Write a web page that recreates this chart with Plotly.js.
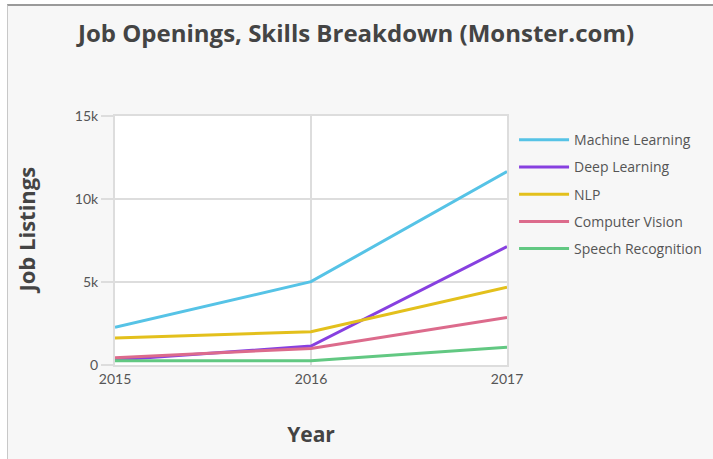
<!DOCTYPE html>
<html>
<head>
<meta charset="utf-8">
<script src="https://cdn.plot.ly/plotly-3.0.1.min.js"></script>
<style>
  html, body { margin: 0; padding: 0; background: #ffffff; }
  #wrap { position: relative; width: 713px; height: 459px; overflow: hidden; background: #ffffff; }
  #chart { position: absolute; left: 7px; top: 4px; width: 718px; height: 455px; overflow: hidden;
           border-top: 2px solid #9a9a9a; border-left: 1px solid #c8c8c8; box-sizing: border-box; }
</style>
</head>
<body>
<div id="wrap"><div id="chart"></div></div>
<script>
const years = [2015, 2016, 2017];
const seriesNames = ["Machine Learning", "Deep Learning", "NLP", "Computer Vision", "Speech Recognition"];
const machineLearning = [2270, 5020, 11650];
const deepLearning = [300, 1140, 7130];
const nlp = [1630, 2000, 4680];
const computerVision = [440, 1000, 2870];
const speechRecognition = [260, 260, 1070];
const seriesColors = ["#56c3e6", "#8740e0", "#e3c01c", "#dc6b8c", "#62c882"];
const yTickVals = [0, 5000, 10000, 15000];
const yTickText = ["0", "5k", "10k", "15k"];
const xTickVals = [2015, 2016, 2017];
const xTickText = ["2015", "2016", "2017"];
const yTitle = "Job Listings";

const allSeries = [machineLearning, deepLearning, nlp, computerVision, speechRecognition];
const traces = allSeries.map((vals, i) => ({
  type: "scatter",
  mode: "lines",
  x: years,
  y: vals,
  name: seriesNames[i],
  legendgroup: "g" + i,
  line: { color: seriesColors[i], width: 3 },
  hoverinfo: "x+y+name"
}));

const fontFam = "Lato, 'Open Sans', sans-serif";
const titleFam = "'Open Sans', Lato, sans-serif";
// plot area: image x 114..506, y 116..365 ; chart div origin at (7,4) + 2px border-top
const W = 717, L = 107, T = 110;
const layout = {
  width: W, height: 453,
  margin: { l: L, t: T, r: W - L - 392, b: 453 - T - 249, pad: 0 },
  paper_bgcolor: "#f7f7f7",
  plot_bgcolor: "#ffffff",
  font: { family: fontFam, color: "#555555", size: 13 },
  title: {
    text: "Job Openings, Skills Breakdown (Monster.com)",
    font: { family: titleFam, size: 24, color: "#444444", weight: 700 },
    x: 0, xref: "container", xanchor: "left",
    y: 1, yref: "container", yanchor: "top",
    pad: { l: 70, t: 19 }
  },
  showlegend: true,
  legend: {
    x: 1.018, xanchor: "left", y: 0.967, yanchor: "top",
    bgcolor: "rgba(0,0,0,0)",
    font: { family: titleFam, size: 14, color: "#555555" },
    traceorder: "grouped",
    tracegroupgap: 6,
    itemwidth: 50
  },
  xaxis: {
    range: [2015, 2017],
    tickvals: xTickVals, ticktext: xTickText,
    showgrid: true, gridcolor: "#dddddd", gridwidth: 1.5,
    zeroline: false,
    showline: true, linecolor: "#dddddd", linewidth: 2, mirror: true,
    ticks: "", tickfont: { family: fontFam, size: 14, color: "#555555" },
    title: { text: "Year", font: { family: titleFam, size: 21, color: "#444444", weight: 700 }, standoff: 42 },
    fixedrange: true
  },
  yaxis: {
    range: [0, 15000],
    tickvals: yTickVals, ticktext: yTickText,
    showgrid: true, gridcolor: "#dddddd", gridwidth: 1.5,
    zeroline: false,
    showline: true, linecolor: "#dddddd", linewidth: 2, mirror: true,
    ticks: "outside", ticklen: 12, tickcolor: "#dddddd", tickwidth: 1.5,
    tickfont: { family: fontFam, size: 14, color: "#555555" },
    fixedrange: true
  },
  annotations: [{
    text: yTitle,
    textangle: -90,
    xref: "paper", yref: "paper",
    x: (25 - 114) / 392, y: 0.54,
    xanchor: "center", yanchor: "middle",
    showarrow: false, borderpad: 0,
    font: { family: titleFam, size: 22, color: "#444444", weight: 700 }
  }]
};

Plotly.newPlot("chart", traces, layout, { displayModeBar: false, staticPlot: false });
</script>
</body>
</html>
